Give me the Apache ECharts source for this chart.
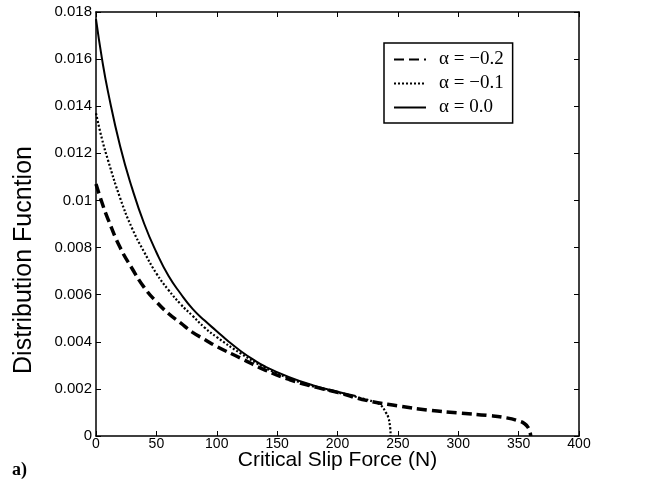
<!DOCTYPE html>
<html>
<head>
<meta charset="utf-8">
<script src="https://cdn.jsdelivr.net/npm/echarts@6/dist/echarts.min.js"></script>
<style>
  html, body { margin: 0; padding: 0; background: #fff; }
  #main { width: 662px; height: 491px; }
</style>
</head>
<body>
<div id="main"></div>
<script>
// ------------------------------------------------------
// Data
// ------------------------------------------------------
var seriesNames = ['α = −0.2', 'α = −0.1', 'α = 0.0']

// alpha = -0.2 (dashed)
var xDash = [0, 5, 10, 20, 30, 40, 50, 60, 70, 80, 90, 100, 120, 140, 160, 180, 200, 225, 250, 275, 300, 325, 340, 350, 355, 358, 359.5, 360]
var yDash = [0.0107, 0.0099, 0.0092, 0.0080, 0.0071, 0.0063, 0.0057, 0.0052, 0.0048, 0.0044, 0.0041, 0.0038, 0.0033, 0.0028, 0.0024, 0.0021, 0.00185, 0.0015, 0.00128, 0.0011, 0.00098, 0.00087, 0.00077, 0.00064, 0.00052, 0.00035, 0.00015, 0]

// alpha = -0.1 (dotted)
var xDot = [0, 5, 10, 20, 30, 40, 50, 60, 70, 80, 90, 100, 120, 140, 160, 180, 200, 220, 230, 236, 240, 242, 243.5, 244]
var yDot = [0.0137, 0.0126, 0.0117, 0.0101, 0.0088, 0.0078, 0.0069, 0.0062, 0.0056, 0.0051, 0.0046, 0.0042, 0.0035, 0.0029, 0.00245, 0.0021, 0.00185, 0.0016, 0.00145, 0.0013, 0.0010, 0.0008, 0.0004, 0]

// alpha = 0.0 (solid)
var xSolid = [0, 5, 10, 20, 30, 40, 50, 60, 70, 80, 90, 100, 110, 120, 130, 140, 160, 180, 200, 215]
var ySolid = [0.0177, 0.0160, 0.0146, 0.0123, 0.0105, 0.0090, 0.0078, 0.0068, 0.00605, 0.0054, 0.0049, 0.00445, 0.0040, 0.0036, 0.00325, 0.00295, 0.0025, 0.00215, 0.00188, 0.0017]

// Helper
function pairs(xs, ys) {
  return xs.map(function (x, i) { return [x, ys[i]] })
}

var chart = echarts.init(document.getElementById('main'), null, {renderer: 'canvas'})

function lineSeries(name, xs, ys, width, type) {
  return {
    name: name,
    type: 'line',
    data: pairs(xs, ys),
    symbol: 'none',
    smooth: 0.5,
    lineStyle: {color: '#000', width: width, type: type},
    itemStyle: {color: '#000'}
  }
}

var axisLineStyle = {show: true, onZero: false, lineStyle: {color: '#000', width: 1.5}}
var tickStyle = {show: true, inside: true, length: 5, lineStyle: {color: '#000', width: 1}}

var option = {
  animation: false,
  backgroundColor: '#fff',
  grid: {
    left: 96, right: 83, top: 12, bottom: 55,
    containLabel: false,
    outerBoundsMode: 'none'
  },
  legend: {
    orient: 'vertical',
    left: 384,
    top: 43,
    data: seriesNames,
    itemWidth: 32,
    itemHeight: 14,
    itemGap: 5,
    padding: [7, 9, 6, 9],
    borderColor: '#000',
    borderWidth: 1.5,
    backgroundColor: '#fff',
    selectedMode: false,
    itemStyle: {opacity: 0, borderWidth: 0},
    textStyle: {color: '#000', fontFamily: 'Liberation Serif', fontSize: 19, padding: [0, 0, 0, 8]}
  },
  xAxis: [
    {
      type: 'value', min: 0, max: 400, interval: 50,
      name: 'Critical Slip Force (N)',
      nameLocation: 'middle',
      nameGap: 14,
      nameMoveOverlap: false,
      nameTextStyle: {color: '#000', fontFamily: 'Liberation Sans', fontSize: 21},
      axisLine: axisLineStyle,
      axisTick: tickStyle,
      axisLabel: {margin: 1, color: '#000', fontFamily: 'Liberation Sans', fontSize: 14},
      splitLine: {show: false}
    },
    {
      type: 'value', min: 0, max: 400, interval: 50, position: 'top',
      axisLine: axisLineStyle,
      axisTick: tickStyle,
      axisLabel: {show: false},
      splitLine: {show: false}
    }
  ],
  yAxis: [
    {
      type: 'value', min: 0, max: 0.018, interval: 0.002,
      name: 'Distribution Fucntion',
      nameLocation: 'middle',
      nameGap: 59,
      nameMoveOverlap: false,
      nameTextStyle: {color: '#000', fontFamily: 'Liberation Sans', fontSize: 25, padding: [0, 72, 0, 0]},
      axisLine: axisLineStyle,
      axisTick: tickStyle,
      axisLabel: {margin: 4, color: '#000', fontFamily: 'Liberation Sans', fontSize: 15},
      splitLine: {show: false}
    },
    {
      type: 'value', min: 0, max: 0.018, interval: 0.002, position: 'right',
      axisLine: axisLineStyle,
      axisTick: tickStyle,
      axisLabel: {show: false},
      splitLine: {show: false}
    }
  ],
  series: [
    lineSeries(seriesNames[0], xDash, yDash, 3.5, [10, 5]),
    lineSeries(seriesNames[1], xDot, yDot, 2.2, [2, 2]),
    lineSeries(seriesNames[2], xSolid, ySolid, 2, 'solid')
  ],
  graphic: [
    {
      type: 'text',
      left: 12,
      top: 461,
      style: {text: 'a)', fill: '#000', font: 'bold 18px "Liberation Serif"'}
    }
  ]
}

chart.setOption(option)
</script>
</body>
</html>
